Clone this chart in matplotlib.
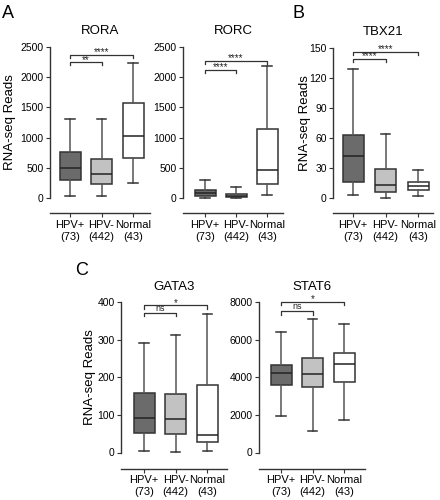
import matplotlib
matplotlib.use("Agg")
import matplotlib.pyplot as plt

plt.rcParams["font.family"] = ["Liberation Sans", "DejaVu Sans"]

W, H = 440, 500

groups = ["HPV+\n(73)", "HPV-\n(442)", "Normal\n(43)"]
box_colors = ["#6b6b6b", "#c2c2c2", "#ffffff"]
pairs = [(1, 2), (1, 3)]

# whisker low, q1, median, q3, whisker high for HPV+, HPV-, Normal
rora_low = [33, 33, 250]
rora_q1 = [290, 228, 661]
rora_med = [500, 394, 1022]
rora_q3 = [755, 650, 1572]
rora_high = [1305, 1305, 2228]
rora_sig = ["**", "****"]
rora_sig_y = [2250, 2367]

rorc_low = [5, 2, 55]
rorc_q1 = [25, 20, 230]
rorc_med = [84, 40, 458]
rorc_q3 = [130, 67, 1142]
rorc_high = [300, 190, 2190]
rorc_sig = ["****", "****"]
rorc_sig_y = [2120, 2273]

tbx21_low = [2.6, 0, 2]
tbx21_q1 = [16, 6, 8.3]
tbx21_med = [41.6, 13, 11.6]
tbx21_q3 = [63, 29, 15.6]
tbx21_high = [129, 64, 28]
tbx21_sig = ["****", "****"]
tbx21_sig_y = [139, 146]

gata3_low = [3, 2, 4]
gata3_q1 = [51, 50, 28]
gata3_med = [91, 90, 46]
gata3_q3 = [158, 155, 180]
gata3_high = [292, 311, 369]
gata3_sig = ["ns", "*"]
gata3_sig_y = [371, 391]

stat6_low = [1947, 1150, 1750]
stat6_q1 = [3610, 3487, 3735]
stat6_med = [4230, 4195, 4690]
stat6_q3 = [4655, 5027, 5290]
stat6_high = [6389, 7080, 6850]
stat6_sig = ["ns", "*"]
stat6_sig_y = [7500, 8000]

fig = plt.figure(figsize=(W / 100, H / 100), dpi=100)

edge = "#333333"


def panel(title, low, q1, med, q3, high, sig, sig_y, ymax, ystep,
          x0, x1, centers, y0px, ytoppx, linepx, ylabel_px=None):
    sc = (centers[2] - centers[0]) / 2
    xlo = 1 - (centers[0] - x0) / sc
    xhi = 3 + (x1 - centers[2]) / sc
    pad = 0.03 * ymax
    ppu = (y0px - ytoppx) / ymax
    bot = y0px + pad * ppu
    ax = fig.add_axes([x0 / W, 1 - bot / H, (x1 - x0) / W, (bot - ytoppx) / H])
    ax.set_xlim(xlo, xhi)
    ax.set_ylim(-pad, ymax)

    stats = [dict(whislo=low[i], q1=q1[i], med=med[i], q3=q3[i],
                  whishi=high[i], fliers=[]) for i in range(3)]
    w = 21 / sc
    bp = ax.bxp(stats, positions=[1, 2, 3], widths=w, capwidths=w * 0.45,
                patch_artist=True, showfliers=False,
                boxprops=dict(edgecolor=edge, linewidth=1.1),
                whiskerprops=dict(color="#555555", linewidth=1.1),
                capprops=dict(color="#333333", linewidth=1.1),
                medianprops=dict(color="#222222", linewidth=1.1))
    for patch, c in zip(bp["boxes"], box_colors):
        patch.set_facecolor(c)
    for line in bp["whiskers"] + bp["caps"]:
        line.set_clip_on(False)

    d = 0.022 * ymax
    for lab, (a, b), lev in zip(sig, pairs, sig_y):
        ax.plot([a, a, b, b], [lev - d, lev, lev, lev - d], color="#333333",
                lw=0.9, clip_on=False)
        ax.annotate(lab, ((a + b) / 2, lev), xytext=(0, -1.8 if lab != "ns" else 0),
                    textcoords="offset points", ha="center", va="bottom",
                    fontsize=7 if lab != "ns" else 6.5, color="#222222")

    for s in ["top", "right"]:
        ax.spines[s].set_visible(False)
    ax.spines["left"].set_bounds(0, ymax)
    ax.spines["bottom"].set_position(("outward", (linepx - bot) * 0.72))
    for s in ["left", "bottom"]:
        ax.spines[s].set_color("#333333")
        ax.spines[s].set_linewidth(1.0)

    ax.set_yticks(list(range(0, ymax + 1, ystep)))
    ax.set_xticks([1, 2, 3], groups)
    ax.tick_params(axis="x", length=3, pad=2, labelsize=8, color="#333333")
    ax.tick_params(axis="y", length=3, pad=1.5, labelsize=7.5, color="#333333")
    ax.set_title(title, fontsize=9.5, pad=9)
    if ylabel_px is not None:
        ax.set_ylabel("RNA-seq Reads", fontsize=9.5)
        ax.yaxis.set_label_coords((ylabel_px - x0) / (x1 - x0),
                                  (ymax / 2 + pad) / (ymax + pad))
    return ax


panel("RORA", rora_low, rora_q1, rora_med, rora_q3, rora_high, rora_sig, rora_sig_y,
      2500, 500, 50, 150, [70, 101.5, 133], 198, 47, 213, ylabel_px=16)
panel("RORC", rorc_low, rorc_q1, rorc_med, rorc_q3, rorc_high, rorc_sig, rorc_sig_y,
      2500, 500, 183, 283, [205, 236, 267], 198, 47, 213)
panel("TBX21", tbx21_low, tbx21_q1, tbx21_med, tbx21_q3, tbx21_high, tbx21_sig,
      tbx21_sig_y, 150, 30, 333, 433, [353, 386, 418], 198, 47.5, 213, ylabel_px=311)
panel("GATA3", gata3_low, gata3_q1, gata3_med, gata3_q3, gata3_high, gata3_sig,
      gata3_sig_y, 400, 100, 121, 227, [144, 175.7, 207.3], 452.5, 302, 468.5,
      ylabel_px=96)
panel("STAT6", stat6_low, stat6_q1, stat6_med, stat6_q3, stat6_high, stat6_sig,
      stat6_sig_y, 8000, 2000, 258.5, 365, [281, 312.5, 344], 452.5, 302, 468.5)

for lab, x, y in [("A", 2, 5), ("B", 292, 5), ("C", 75, 262)]:
    fig.text(x / W, 1 - y / H, lab, fontsize=13, ha="left", va="top")

fig.savefig("out.png", dpi=100)
